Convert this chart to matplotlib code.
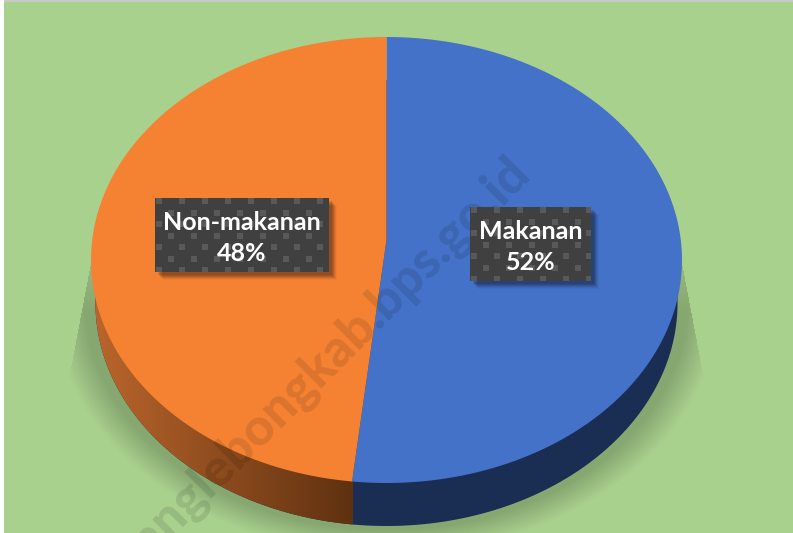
import numpy as np
import matplotlib
matplotlib.use('Agg')
import matplotlib.pyplot as plt
from matplotlib.colors import LinearSegmentedColormap
from matplotlib.patches import Polygon, Rectangle
from matplotlib.transforms import Affine2D

plt.rcParams['font.family'] = ['Lato', 'DejaVu Sans']

labels = ['Makanan', 'Non-makanan']
values = [51.7, 48.3]
shown = ['52%', '48%']
top_colors = ['#4472c8', '#f58233']
watermark = 'rejanglebongkab.bps.go.id'

# pie position in picture pixels, k is the perspective of the tilted disc
cx, cy = 386.5, 240
rx, ry, k = 294.3, 221.2, 0.0897
depth = 43
bg = '#a9d18e'


def persp(xy, dy=0, sx=1.0):
    u, v = xy[:, 0], xy[:, 1]
    d = 1 + k * v
    return np.column_stack([cx + sx * rx * u / d, cy + dy - ry * v / d])


fig = plt.figure(figsize=(7.93, 5.33), dpi=100, facecolor='white')
ax = fig.add_axes([0, 0, 1, 1])

wedges, _ = ax.pie(values, startangle=90, counterclock=False, radius=1)
outlines = []
for w in wedges:
    # flatten the wedge curves, scaled up so the arc stays smooth
    p = w.get_path().transformed(Affine2D().scale(1000))
    outlines.append(p.to_polygons()[0] / 1000)
    w.remove()

ax.set_aspect('auto')
ax.axis('off')

ax.add_patch(Rectangle((4, 2), 789, 531, color=bg, lw=0, zorder=0))
ax.add_patch(Rectangle((4, 0), 789, 2, color='#c8c8c8', lw=0, zorder=0))

# soft shadow under the pie
xx, yy = np.meshgrid(np.arange(793) + 0.5, np.arange(533) + 0.5)
e = np.sqrt(((xx - cx) / 321) ** 2 + ((yy - 300) / 245) ** 2)
band = np.clip((1.04 - e) / 0.1, 0, 1)
fade = np.clip((yy - 200) / 110, 0, 1)
inside = np.abs(xx - cx) < 293 + (yy - 250) * 0.19
shade = np.zeros((533, 793, 4))
shade[..., 3] = 0.2 * band * fade * inside
ax.imshow(shade, extent=(0, 793, 533, 0), aspect='auto', zorder=1)

# side wall: whole disc pushed down, orange part is a gradient up to the split
side = Polygon(persp(np.vstack(outlines), depth, 0.985), color='#1a2d52', lw=0, zorder=2)
ax.add_patch(side)
theta = 2 * np.pi * values[0] / sum(values)
split = persp(np.array([[np.sin(theta), np.cos(theta)]]))[0, 0]
wall = LinearSegmentedColormap.from_list('wall', ['#bb662c', '#5f3110'])
im = ax.imshow(np.linspace(0, 1, 256)[None, :], cmap=wall, extent=(92, split, 533, 0),
               aspect='auto', zorder=2.5)
im.set_clip_path(side)

for outline, c in zip(outlines, top_colors):
    ax.add_patch(Polygon(persp(outline), color=c, lw=0, zorder=3))

ax.text(532, 175, watermark, rotation=45, rotation_mode='anchor', ha='right', va='baseline',
        fontsize=37, fontweight='black', color='black', alpha=0.11, zorder=4)


def label_box(x0, y0, x1, y1, name, pct):
    for off, a in [(8, 0.04), (7, 0.06), (6, 0.08), (5, 0.1), (4, 0.1), (3, 0.1)]:
        ax.add_patch(Rectangle((x0 + off, y0 + off), x1 - x0, y1 - y0, color='black',
                               alpha=a, lw=0, zorder=5))
    box = Rectangle((x0, y0), x1 - x0, y1 - y0, color='#404040', lw=0, zorder=6)
    ax.add_patch(box)
    # dotted pattern of the label fill
    for i, y in enumerate(np.arange(y0 + 0, y1, 11.5)):
        for x in np.arange(x0 + 1 + 11.5 * (i % 2), x1, 23):
            r = Rectangle((x, y), 6, 6, color='#595959', lw=0, zorder=6.5)
            ax.add_patch(r)
            r.set_clip_path(box)
    mid = (x0 + x1) / 2
    ax.text(mid, (y0 + y1) / 2 + 3, name + '\n' + pct, ha='center', va='center', fontsize=18,
            fontweight='bold', color='white', linespacing=1.45, zorder=7)


label_box(470, 207, 591, 281, labels[0], shown[0])
label_box(155, 198, 329, 272, labels[1], shown[1])

ax.set_xlim(0, 793)
ax.set_ylim(533, 0)
fig.savefig('out.png', dpi=100, facecolor='white')
